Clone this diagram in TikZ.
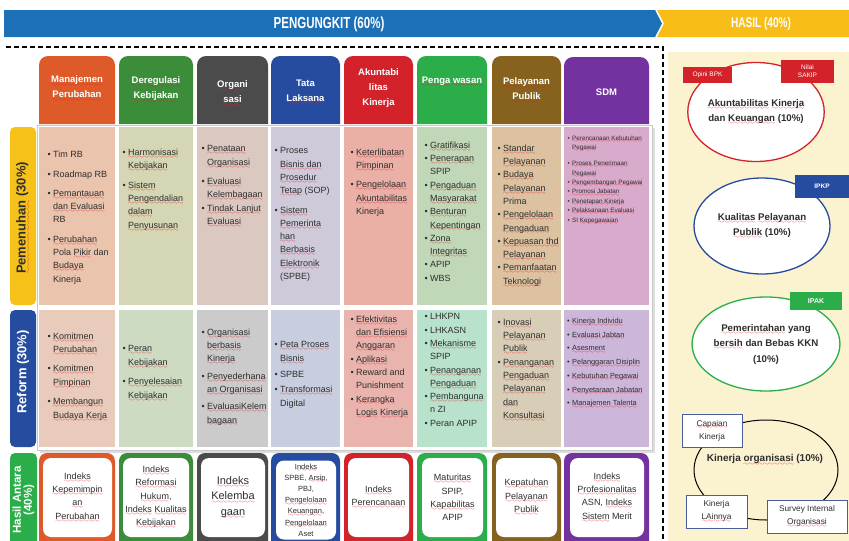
\documentclass[tikz,border=0pt]{standalone}
\usepackage{fontspec}
\setmainfont{Liberation Sans}
\newfontfamily\bannerfont[FakeStretch=0.72]{Liberation Sans}
\usepackage{xcolor}
\usetikzlibrary{shapes.geometric}

\definecolor{vbanner}{HTML}{1C70B8}
\definecolor{vhasil}{HTML}{F8BE17}
\definecolor{vpanel}{HTML}{FBF2CF}
\definecolor{vtext}{HTML}{2E2E2E}
\definecolor{vframe}{HTML}{C8C8C8}
\definecolor{vboxline}{HTML}{4A5D9A}
\definecolor{vwave}{HTML}{E82028}
\definecolor{vorange}{HTML}{DE5A28}
\definecolor{vgreen}{HTML}{3C8D3A}
\definecolor{vgray}{HTML}{4B4B4B}
\definecolor{vblue}{HTML}{264CA0}
\definecolor{vred}{HTML}{D3222A}
\definecolor{vlime}{HTML}{2BAE4A}
\definecolor{vbrown}{HTML}{86621E}
\definecolor{vpurple}{HTML}{7332A0}
\definecolor{vyellow}{HTML}{F6C21A}
\definecolor{pen1}{HTML}{EBC4AD}
\definecolor{pen2}{HTML}{D5D6B4}
\definecolor{pen3}{HTML}{DAC8C1}
\definecolor{pen4}{HTML}{CFCAD9}
\definecolor{pen5}{HTML}{EAAFA5}
\definecolor{pen6}{HTML}{C0D8B7}
\definecolor{pen7}{HTML}{DCC2A0}
\definecolor{pen8}{HTML}{D8AACB}
\definecolor{ref1}{HTML}{E8CBBA}
\definecolor{ref2}{HTML}{CDDBC3}
\definecolor{ref3}{HTML}{CBCBCB}
\definecolor{ref4}{HTML}{C8CEDF}
\definecolor{ref5}{HTML}{E9B4AE}
\definecolor{ref6}{HTML}{B8E2CC}
\definecolor{ref7}{HTML}{D8CEB7}
\definecolor{ref8}{HTML}{CCB6DA}

\font\wvfont=lasy6
\newcommand\wv[1]{\leavevmode\setbox0\hbox{#1}\rlap{\hbox to\wd0{\xleaders\hbox{\lower0.33em\hbox{\wvfont\textcolor{vwave}{\char58}}}\hfill}}\box0\relax}
\newcommand\bul{\llap{\textbullet\hspace{2.5pt}}}

\tikzset{
  banner/.style={text=white, font=\bannerfont\bfseries\fontsize{16}{16}\selectfont},
  hdrtxt/.style={text=white, align=center, font=\bfseries\fontsize{9.5}{15}\selectfont},
  rowtxt/.style={rotate=90, align=center, font=\bfseries\fontsize{13}{13}\selectfont},
  celltxt/.style={anchor=north west, inner sep=0pt, align=left, text=vtext},
  idx/.style={fill=white, rounded corners=8, minimum height=79, inner sep=1pt, align=center, text=vtext},
  oval/.style={ellipse, draw=#1, line width=1.3, fill=white, inner sep=0pt, align=center, text=vtext, font=\bfseries\fontsize{9.7}{15.5}\selectfont},
  tag/.style={fill=#1, text=white, inner sep=0pt, align=center, font=\fontsize{6.5}{8}\selectfont},
  sub/.style={draw=vboxline, line width=0.9, fill=white, inner sep=0pt, align=center, text=vtext, font=\fontsize{8.3}{13}\selectfont}
}

\begin{document}
\begin{tikzpicture}[x=1pt, y=-1pt, font=\fontsize{9}{13.3}\selectfont]
\useasboundingbox (0,0) rectangle (849,541);
\clip (0,0) rectangle (849,541);

\fill[vbanner] (4,10) -- (655,10) -- (662,23.5) -- (655,37) -- (4,37) -- cycle;
\fill[vhasil] (657,10) -- (849,10) -- (849,37) -- (657,37) -- (664,23.5) -- cycle;
\node[banner] (pengungkit) at (329,24) {PENGUNGKIT (60\%)};
\node[banner, font=\bannerfont\bfseries\fontsize{14}{14}\selectfont] (hasil) at (761,24) {HASIL (40\%)};

\fill[vpanel] (668,52) rectangle (849,541);
\draw[black, line width=1.3, dash pattern=on 5pt off 3pt] (6,47) -- (663,47) -- (663,541);

\fill[vframe!60] (40,128) rectangle (655,453);
\draw[vframe, fill=white] (37,125) rectangle (652,450);

% column heads
\fill[vorange] (39,124) [rounded corners=9] -- (39,56) -- (115,56) [sharp corners] -- (115,124) -- cycle;
\fill[vgreen] (119,124) [rounded corners=9] -- (119,56) -- (193,56) [sharp corners] -- (193,124) -- cycle;
\fill[vgray] (197,124) [rounded corners=9] -- (197,56) -- (268,56) [sharp corners] -- (268,124) -- cycle;
\fill[vblue] (271,124) [rounded corners=9] -- (271,56) -- (340,56) [sharp corners] -- (340,124) -- cycle;
\fill[vred] (344,124) [rounded corners=9] -- (344,56) -- (413,56) [sharp corners] -- (413,124) -- cycle;
\fill[vlime] (417,124) [rounded corners=9] -- (417,56) -- (487,56) [sharp corners] -- (487,124) -- cycle;
\fill[vbrown] (492,124) [rounded corners=9] -- (492,56) -- (561,56) [sharp corners] -- (561,124) -- cycle;
\fill[vpurple] (564,124) [rounded corners=9] -- (564,57) -- (649,57) [sharp corners] -- (649,124) -- cycle;

\node[hdrtxt] (h1) at (77,88.5) {\wv{Manajemen}\\\wv{Perubahan}};
\node[hdrtxt] (h2) at (156,89.5) {\wv{Deregulasi}\\\wv{Kebijakan}};
\node[hdrtxt] (h3) at (232.5,93.5) {\wv{Organi}\\\wv{sasi}};
\node[hdrtxt] (h4) at (305.5,92.5) {Tata\\\wv{Laksana}};
\node[hdrtxt] (h5) at (378.5,88) {Akuntabi\\litas\\Kinerja};
\node[hdrtxt] (h6) at (452,82) {\wv{Penga wasan}};
\node[hdrtxt] (h7) at (526.5,90.5) {\wv{Pelayanan}\\\wv{Publik}};
\node[hdrtxt] (h8) at (606.5,92) {SDM};

% row heads
\fill[vyellow, rounded corners=5] (10,127) rectangle (36,305);
\fill[vblue, rounded corners=5] (10,310) rectangle (36,447);
\fill[vlime, rounded corners=5] (10,453) rectangle (37,570);
\node[rowtxt, text=vtext] (pemenuhan) at (23,218) {\wv{Pemenuhan} (30\%)};
\node[rowtxt, text=white] (reform) at (23,372) {Reform (30\%)};
\node[rowtxt, text=white, font=\bfseries\fontsize{11.5}{11}\selectfont] (antara) at (23.5,500) {Hasil Antara\\(40\%)};

% pemenuhan
\fill[pen1] (39,127) rectangle (115,305);
\fill[pen2] (119,127) rectangle (193,305);
\fill[pen3] (197,127) rectangle (268,305);
\fill[pen4] (271,127) rectangle (340,305);
\fill[pen5] (344,127) rectangle (413,305);
\fill[pen6] (417,127) rectangle (487,305);
\fill[pen7] (492,127) rectangle (561,305);
\fill[pen8] (564,127) rectangle (649,305);

\node[celltxt] (p1) at (53,150.5) {\bul Tim RB\\[6.5pt]\bul Roadmap RB\\[6pt]\bul \wv{Pemantauan}\\\wv{dan Evaluasi}\\RB\\[6pt]\bul \wv{Perubahan}\\Pola \wv{Pikir} dan\\\wv{Budaya}\\Kinerja};
\node[celltxt] (p2) at (128,148.5) {\bul \wv{Harmonisasi}\\\wv{Kebijakan}\\[6.5pt]\bul \wv{Sistem}\\\wv{Pengendalian}\\\wv{dalam}\\\wv{Penyusunan}};
\node[celltxt] (p3) at (207,145.5) {\bul \wv{Penataan}\\\wv{Organisasi}\\[6pt]\bul \wv{Evaluasi}\\\wv{Kelembagaan}\\\bul \wv{Tindak Lanjut}\\\wv{Evaluasi}};
\node[celltxt] (p4) at (280,147.5) {\bul Proses\\\wv{Bisnis dan}\\\wv{Prosedur}\\\wv{Tetap} (SOP)\\[6pt]\bul \wv{Sistem}\\\wv{Pemerinta}\\\wv{han}\\\wv{Berbasis}\\\wv{Elektronik}\\(SPBE)};
\node[celltxt] (p5) at (356,148.5) {\bul \wv{Keterlibatan}\\\wv{Pimpinan}\\[6pt]\bul \wv{Pengelolaan}\\\wv{Akuntabilitas}\\Kinerja};
\node[celltxt] (p6) at (430,141.5) {\bul \wv{Gratifikasi}\\\bul \wv{Penerapan}\\SPIP\\\bul \wv{Pengaduan}\\\wv{Masyarakat}\\\bul \wv{Benturan}\\\wv{Kepentingan}\\\bul \wv{Zona}\\\wv{Integritas}\\\bul APIP\\\bul WBS};
\node[celltxt] (p7) at (503,144.5) {\bul \wv{Standar}\\\wv{Pelayanan}\\\bul \wv{Budaya}\\\wv{Pelayanan}\\Prima\\\bul \wv{Pengelolaan}\\\wv{Pengaduan}\\\bul \wv{Kepuasan thd}\\\wv{Pelayanan}\\\bul \wv{Pemanfaatan}\\\wv{Teknologi}};
\node[celltxt, font=\fontsize{6.3}{9.4}\selectfont] (p8) at (572,135.7) {\bul \wv{Perencanaan Kebutuhan}\\\wv{Pegawai}\\[6.5pt]\bul \wv{Proses Penerimaan}\\\wv{Pegawai}\\\bul \wv{Pengembangan Pegawai}\\\bul \wv{Promosi Jabatan}\\\bul \wv{Penetapan Kinerja}\\\bul \wv{Pelaksanaan Evaluasi}\\\bul SI \wv{Kepegawaian}};

% reform
\fill[ref1] (39,310) rectangle (115,447);
\fill[ref2] (119,310) rectangle (193,447);
\fill[ref3] (197,310) rectangle (268,447);
\fill[ref4] (271,310) rectangle (340,447);
\fill[ref5] (344,310) rectangle (413,447);
\fill[ref6] (417,310) rectangle (487,447);
\fill[ref7] (492,310) rectangle (561,447);
\fill[ref8] (564,310) rectangle (649,447);

\node[celltxt] (r1) at (53,332.5) {\bul \wv{Komitmen}\\\wv{Perubahan}\\[6pt]\bul \wv{Komitmen}\\\wv{Pimpinan}\\[6.5pt]\bul \wv{Membangun}\\\wv{Budaya Kerja}};
\node[celltxt] (r2) at (128,345.5) {\bul \wv{Peran}\\\wv{Kebijakan}\\[6.5pt]\bul \wv{Penyelesaian}\\\wv{Kebijakan}};
\node[celltxt] (r3) at (207,328.5) {\bul \wv{Organisasi}\\\wv{berbasis}\\\wv{Kinerja}\\[4pt]\bul \wv{Penyederhana}\\\wv{an Organisasi}\\[4pt]\bul \wv{EvaluasiKelem}\\\wv{bagaan}};
\node[celltxt] (r4) at (280,341.5) {\bul \wv{Peta Proses}\\\wv{Bisnis}\\[3pt]\bul SPBE\\[2pt]\bul \wv{Transformasi}\\Digital};
\node[celltxt] (r5) at (356,315.5) {\bul \wv{Efektivitas}\\\wv{dan Efisiensi}\\\wv{Anggaran}\\\bul \wv{Aplikasi}\\\bul Reward and\\Punishment\\\bul \wv{Kerangka}\\\wv{Logis} \wv{Kinerja}};
\node[celltxt] (r6) at (430,313.5) {\bul LHKPN\\\bul LHKASN\\\bul \wv{Mekanisme}\\SPIP\\\bul \wv{Penanganan}\\\wv{Pengaduan}\\\bul \wv{Pembanguna}\\n ZI\\\bul Peran APIP};
\node[celltxt] (r7) at (503,318.5) {\bul \wv{Inovasi}\\\wv{Pelayanan}\\\wv{Publik}\\\bul \wv{Penanganan}\\\wv{Pengaduan}\\\wv{Pelayanan}\\\wv{dan}\\\wv{Konsultasi}};
\node[celltxt, font=\fontsize{7.4}{13.7}\selectfont] (r8) at (572,318) {\bul \wv{Kinerja Individu}\\\bul \wv{Evaluasi Jabtan}\\\bul \wv{Asesment}\\\bul \wv{Pelanggaran Disiplin}\\\bul \wv{Kebutuhan Pegawai}\\\bul \wv{Penyetaraan Jabatan}\\\bul \wv{Manajemen Talenta}};

% hasil antara
\fill[vorange, rounded corners=8] (39,453) rectangle (115,570);
\fill[vgreen, rounded corners=8] (119,453) rectangle (193,570);
\fill[vgray, rounded corners=8] (197,453) rectangle (268,570);
\fill[vblue, rounded corners=8] (271,453) rectangle (340,570);
\fill[vred, rounded corners=8] (344,453) rectangle (413,570);
\fill[vlime, rounded corners=8] (417,453) rectangle (487,570);
\fill[vbrown, rounded corners=8] (492,453) rectangle (561,570);
\fill[vpurple, rounded corners=8] (564,453) rectangle (649,570);

\node[idx, minimum width=69] (i1) at (77.5,497.5) {\wv{Indeks}\\\wv{Kepemimpin}\\\wv{an}\\\wv{Perubahan}};
\node[idx, minimum width=66] (i2) at (156,497.5) {\wv{Indeks}\\\wv{Reformasi}\\\wv{Hukum},\\\wv{Indeks} \wv{Kualitas}\\\wv{Kebijakan}};
\node[idx, minimum width=64, font=\fontsize{11}{15.5}\selectfont] (i3) at (233,497.5) {\wv{Indeks}\\\wv{Kelemba}\\\wv{gaan}};
\node[idx, minimum width=60, font=\fontsize{7.5}{11.2}\selectfont] (i4) at (306,500) {\wv{Indeks}\\SPBE, \wv{Arsip},\\PBJ,\\\wv{Pengelolaan}\\\wv{Keuangan},\\\wv{Pengelolaan}\\Aset};
\node[idx, minimum width=61] (i5) at (378.5,497.5) {\wv{Indeks}\\\wv{Perencanaan}};
\node[idx, minimum width=61] (i6) at (452.5,497.5) {\wv{Maturitas}\\SPIP,\\\wv{Kapabilitas}\\APIP};
\node[idx, minimum width=61] (i7) at (526.5,497.5) {\wv{Kepatuhan}\\\wv{Pelayanan}\\\wv{Publik}};
\node[idx, minimum width=74] (i8) at (607,497.5) {\wv{Indeks}\\\wv{Profesionalitas}\\ASN, \wv{Indeks}\\\wv{Sistem} Merit};

% hasil
\node[oval=vred, minimum width=134, minimum height=99] (akuntabilitas) at (756,112) {\wv{Akuntabilitas} \wv{Kinerja}\\dan \wv{Keuangan} (10\%)};
\node[oval=vblue, minimum width=136, minimum height=96] (pelayanan) at (762,226) {\wv{Kualitas} \wv{Pelayanan}\\\wv{Publik} (10\%)};
\node[oval=vlime, minimum width=146, minimum height=94] (kkn) at (766,344) {\wv{Pemerintahan} yang\\\wv{bersih} dan Bebas KKN\\(10\%)};
\node[ellipse, draw=black, line width=1, minimum width=144, minimum height=100] (organisasi) at (766,470) {};
\node[text=vtext, font=\bfseries\fontsize{10}{12}\selectfont] (organisasitxt) at (765,460) {Kinerja \wv{organisasi} (10\%)};

\node[tag=vred, minimum width=49, minimum height=16] (bpk) at (707.5,75) {Opini BPK};
\node[tag=vred, minimum width=53, minimum height=23] (sakip) at (807.5,71.5) {Nilai\\SAKIP};
\node[tag=vblue, minimum width=54, minimum height=23, font=\bfseries\fontsize{6.5}{8}\selectfont] (ipkp) at (822,186.5) {IPKP};
\node[tag=vlime, minimum width=52, minimum height=18, font=\bfseries\fontsize{7}{8}\selectfont] (ipak) at (816,301) {IPAK};

\node[sub, minimum width=60, minimum height=33] (capaian) at (712,430.5) {\wv{Capaian}\\Kinerja};
\node[sub, minimum width=61, minimum height=33] (lainnya) at (716.5,511.5) {Kinerja\\\wv{LAinnya}};
\node[sub, minimum width=80, minimum height=33] (survey) at (807,516.5) {Survey Internal\\\wv{Organisasi}};
\end{tikzpicture}
\end{document}
